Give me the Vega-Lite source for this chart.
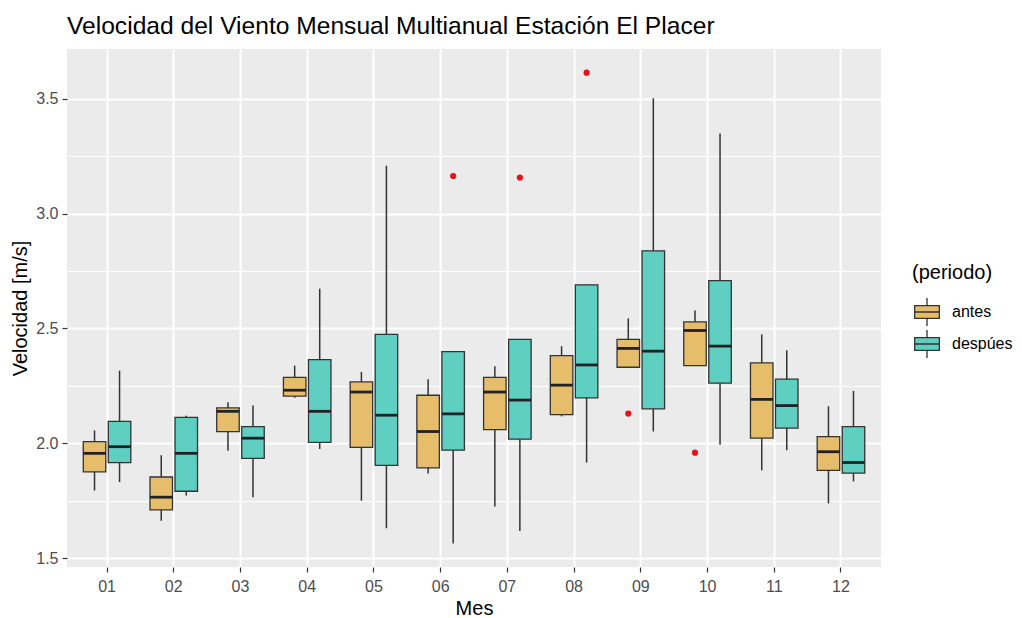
{
  "$schema": "https://vega.github.io/schema/vega-lite/v6.json",
  "width": 814,
  "height": 518,
  "autosize": {"type": "none"},
  "padding": {"left": 67, "top": 49, "right": 141, "bottom": 51},
  "background": "white",
  "title": {
    "text": "Velocidad del Viento Mensual Multianual Estación El Placer",
    "anchor": "start",
    "frame": "group",
    "font": "Liberation Sans",
    "fontSize": 24.6,
    "fontWeight": "normal",
    "color": "#000000",
    "offset": 9
  },
  "config": {
    "view": {"fill": "#EBEBEB", "stroke": null},
    "font": "Liberation Sans",
    "axisX": {
      "bandPosition": 0.5,
      "grid": true,
      "gridColor": "#FFFFFF",
      "gridWidth": 2,
      "domain": false,
      "tickColor": "#333333",
      "tickSize": 5,
      "tickWidth": 1.2,
      "labelColor": "#4D4D4D",
      "labelFontSize": 16,
      "labelPadding": 6,
      "labelAngle": 0,
      "titleFontSize": 20,
      "titleFontWeight": "normal",
      "titleColor": "#000000",
      "titlePadding": 4
    },
    "axisY": {
      "grid": true,
      "gridColor": "#FFFFFF",
      "gridWidth": 2,
      "domain": false,
      "tickColor": "#333333",
      "tickSize": 5,
      "tickWidth": 1.2,
      "labelColor": "#4D4D4D",
      "labelFontSize": 16,
      "labelPadding": 4,
      "titleFontSize": 20,
      "titleFontWeight": "normal",
      "titleColor": "#000000",
      "titlePadding": 5
    }
  },
  "datasets": {
    "boxes": [
      {"mes": "01", "periodo": "antes", "lower": 1.794, "q1": 1.875, "median": 1.956, "q3": 2.007, "upper": 2.056},
      {"mes": "01", "periodo": "despúes", "lower": 1.831, "q1": 1.916, "median": 1.985, "q3": 2.095, "upper": 2.316},
      {"mes": "02", "periodo": "antes", "lower": 1.662, "q1": 1.710, "median": 1.765, "q3": 1.853, "upper": 1.948},
      {"mes": "02", "periodo": "despúes", "lower": 1.772, "q1": 1.791, "median": 1.956, "q3": 2.113, "upper": 2.120},
      {"mes": "03", "periodo": "antes", "lower": 1.967, "q1": 2.051, "median": 2.139, "q3": 2.154, "upper": 2.179},
      {"mes": "03", "periodo": "despúes", "lower": 1.765, "q1": 1.934, "median": 2.022, "q3": 2.072, "upper": 2.164},
      {"mes": "04", "periodo": "antes", "lower": 2.198, "q1": 2.205, "median": 2.231, "q3": 2.287, "upper": 2.338},
      {"mes": "04", "periodo": "despúes", "lower": 1.975, "q1": 2.004, "median": 2.139, "q3": 2.364, "upper": 2.673},
      {"mes": "05", "periodo": "antes", "lower": 1.750, "q1": 1.982, "median": 2.223, "q3": 2.267, "upper": 2.311},
      {"mes": "05", "periodo": "despúes", "lower": 1.630, "q1": 1.904, "median": 2.122, "q3": 2.474, "upper": 3.208},
      {"mes": "06", "periodo": "antes", "lower": 1.868, "q1": 1.893, "median": 2.051, "q3": 2.209, "upper": 2.279},
      {"mes": "06", "periodo": "despúes", "lower": 1.563, "q1": 1.970, "median": 2.128, "q3": 2.399, "upper": 2.399},
      {"mes": "07", "periodo": "antes", "lower": 1.725, "q1": 2.059, "median": 2.223, "q3": 2.287, "upper": 2.335},
      {"mes": "07", "periodo": "despúes", "lower": 1.618, "q1": 2.018, "median": 2.188, "q3": 2.452, "upper": 2.452},
      {"mes": "08", "periodo": "antes", "lower": 2.117, "q1": 2.125, "median": 2.253, "q3": 2.382, "upper": 2.423},
      {"mes": "08", "periodo": "despúes", "lower": 1.916, "q1": 2.198, "median": 2.341, "q3": 2.690, "upper": 2.690},
      {"mes": "09", "periodo": "antes", "lower": 2.331, "q1": 2.331, "median": 2.413, "q3": 2.452, "upper": 2.544},
      {"mes": "09", "periodo": "despúes", "lower": 2.051, "q1": 2.150, "median": 2.401, "q3": 2.838, "upper": 3.502},
      {"mes": "10", "periodo": "antes", "lower": 2.338, "q1": 2.338, "median": 2.491, "q3": 2.529, "upper": 2.578},
      {"mes": "10", "periodo": "despúes", "lower": 1.993, "q1": 2.262, "median": 2.423, "q3": 2.708, "upper": 3.349},
      {"mes": "11", "periodo": "antes", "lower": 1.882, "q1": 2.022, "median": 2.191, "q3": 2.350, "upper": 2.474},
      {"mes": "11", "periodo": "despúes", "lower": 1.970, "q1": 2.066, "median": 2.164, "q3": 2.279, "upper": 2.405},
      {"mes": "12", "periodo": "antes", "lower": 1.738, "q1": 1.882, "median": 1.963, "q3": 2.029, "upper": 2.161},
      {"mes": "12", "periodo": "despúes", "lower": 1.834, "q1": 1.870, "median": 1.916, "q3": 2.072, "upper": 2.228}
    ],
    "outliers": [
      {"mes": "06", "periodo": "despúes", "value": 3.164},
      {"mes": "07", "periodo": "despúes", "value": 3.157},
      {"mes": "08", "periodo": "despúes", "value": 3.614},
      {"mes": "09", "periodo": "antes", "value": 2.129},
      {"mes": "10", "periodo": "antes", "value": 1.959}
    ]
  },
  "encoding": {
    "x": {
      "field": "mes",
      "type": "nominal",
      "title": "Mes",
      "scale": {"paddingInner": 0.25, "paddingOuter": 0.225}
    },
    "xOffset": {
      "field": "periodo",
      "type": "nominal",
      "scale": {"domain": ["antes", "despúes"], "paddingInner": 0.1, "paddingOuter": 0.05}
    }
  },
  "layer": [
    {
      "data": {"name": "boxes"},
      "mark": {"type": "rule", "color": "#333333", "strokeWidth": 1.5},
      "encoding": {
        "y": {
          "field": "lower",
          "type": "quantitative",
          "title": "Velocidad [m/s]",
          "scale": {"domain": [1.461, 3.717], "nice": false, "zero": false},
          "axis": {"values": [1.5, 2.0, 2.5, 3.0, 3.5], "format": ".1f"}
        },
        "y2": {"field": "upper"}
      }
    },
    {
      "data": {"name": "boxes"},
      "mark": {"type": "bar", "stroke": "#333333", "strokeWidth": 1.3},
      "encoding": {
        "y": {
          "field": "q1",
          "type": "quantitative",
          "title": null,
          "axis": {"values": [1.75, 2.25, 2.75, 3.25], "grid": true, "gridWidth": 1, "labels": false, "ticks": false, "domain": false, "title": null, "orient": "left"}
        },
        "y2": {"field": "q3"},
        "fill": {
          "field": "periodo",
          "type": "nominal",
          "title": "(periodo)",
          "scale": {"domain": ["antes", "despúes"], "range": ["#E6BE6B", "#5FCFC1"]},
          "legend": {
            "orient": "none",
            "legendX": 845,
            "legendY": 214,
            "titleFontSize": 20,
            "titleFontWeight": "normal",
            "titleColor": "#000000",
            "titlePadding": 14,
            "labelFontSize": 16,
            "labelColor": "#000000",
            "labelOffset": 10,
            "rowPadding": -3,
            "symbolType": "M0,-1V-0.45M-0.88,-0.45H0.88V0.45H-0.88ZM-0.88,0H0.88M0,0.45V1",
            "symbolSize": 784,
            "symbolStrokeColor": "#333333",
            "symbolStrokeWidth": 1.3,
            "symbolOpacity": 1
          }
        }
      }
    },
    {
      "data": {"name": "boxes"},
      "mark": {"type": "tick", "color": "#222222", "thickness": 2.8, "size": 22.5, "opacity": 1},
      "encoding": {
        "y": {"field": "median", "type": "quantitative", "axis": null}
      }
    },
    {
      "data": {"name": "outliers"},
      "mark": {"type": "point", "filled": true, "color": "#E8101A", "opacity": 1, "size": 38},
      "encoding": {
        "y": {"field": "value", "type": "quantitative", "axis": null}
      }
    }
  ],
  "resolve": {"axis": {"y": "independent"}}
}
